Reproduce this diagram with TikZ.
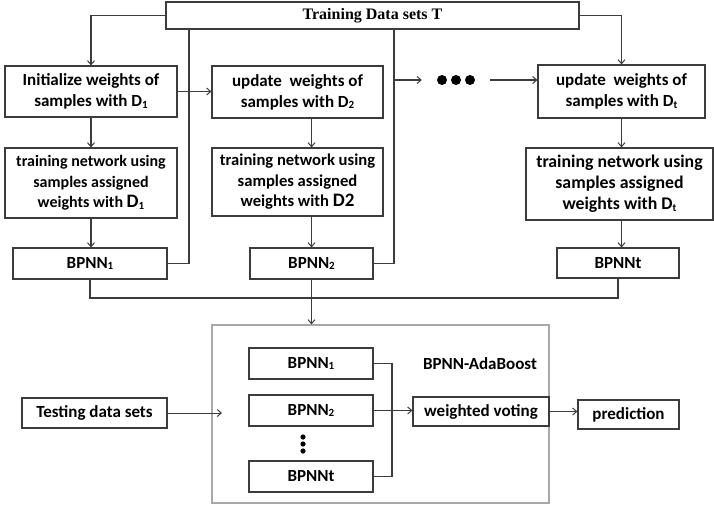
\documentclass[tikz,border=0pt]{standalone}
\usepackage{fontspec}
\setmainfont{Carlito}
\newfontfamily\serifT{Liberation Serif}
\usetikzlibrary{arrows.meta}
\newcommand\lo[1]{\raisebox{-0.2ex}{\fontsize{11}{11}\selectfont #1}}
\definecolor{ln}{HTML}{3C3C3C}
\definecolor{lg}{HTML}{A8A8A8}
\tikzset{
  box/.style={draw=ln, line width=1.2pt, rectangle, inner sep=0pt, align=center,
    font=\fontsize{17}{21}\selectfont\bfseries, text=black},
  conn/.style={draw=ln, line width=1.2pt},
  arr/.style={conn, -{Straight Barb[length=4pt,width=7pt,line width=1pt]}},
}
\begin{document}
\begin{tikzpicture}[x=1pt,y=-1pt]
\useasboundingbox (0,0) rectangle (714,509);
% top
\node[box, minimum width=413, minimum height=27, font=\serifT\fontsize{16}{18}\selectfont\bfseries] (top) at (372.5,15.5) {Training Data sets T};
% row 1
\node[box, minimum width=172, minimum height=51] (init) at (91,91.5) {Initialize weights of\\samples with D\lo{1}};
\node[box, minimum width=171, minimum height=52] (upd2) at (297.5,92) {update\ \ weights of\\samples with D\lo{2}};
\node[box, minimum width=167, minimum height=53] (updt) at (621.5,91.5) {update\ \ weights of\\samples with D\lo{t}};
\node[inner sep=0pt, minimum width=68, minimum height=12] (dots) at (456,80) {};
\foreach \dx in {-14,0,14} \fill[black] ([xshift=\dx pt]dots.center) circle (5pt);
% row 2
\node[box, minimum width=172, minimum height=70, font=\fontsize{16}{20.5}\selectfont\bfseries] (tr1) at (91,183) {training network using\\samples assigned\\weights with {\fontsize{19}{19}\selectfont D}\lo{1}};
\node[box, minimum width=171, minimum height=68, font=\fontsize{16.6}{20.5}\selectfont\bfseries] (tr2) at (297.5,182) {training network using\\samples assigned\\weights with {\fontsize{19}{19}\selectfont D2}};
\node[box, minimum width=187, minimum height=72, font=\fontsize{17.8}{21}\selectfont\bfseries] (trt) at (619.5,184) {training network using\\samples assigned\\weights with D\lo{t}};
% row 3
\node[box, minimum width=154, minimum height=31] (b1) at (90,263.5) {BPNN\lo{1}};
\node[box, minimum width=123, minimum height=31] (b2) at (311.5,263.5) {BPNN\lo{2}};
\node[box, minimum width=122, minimum height=30] (bt) at (618,263) {BPNNt};
% bottom block
\node[draw=lg, line width=1.2pt, rectangle, minimum width=337, minimum height=178, inner sep=0pt] (big) at (380.5,414) {};
\node[box, minimum width=124, minimum height=31] (ib1) at (311,363.5) {BPNN\lo{1}};
\node[box, minimum width=124, minimum height=31] (ib2) at (311,410.5) {BPNN\lo{2}};
\node[box, minimum width=124, minimum height=31] (ibt) at (311,476.5) {BPNNt};
\node[inner sep=0pt, minimum width=6, minimum height=20] (vd) at (303,444) {};
\foreach \dy in {-7,0,7} \fill[black] ([yshift=\dy pt]vd.center) circle (2.6pt);
\node[font=\fontsize{17}{21}\selectfont\bfseries, inner sep=0pt] (ada) at (480,364) {BPNN-AdaBoost};
\node[box, minimum width=136, minimum height=29] (wv) at (481,411.5) {weighted voting};
\node[box, minimum width=101, minimum height=29] (pred) at (628.5,414.5) {prediction};
\node[box, minimum width=145, minimum height=30] (test) at (94.5,413) {Testing data sets};
% coordinates
\coordinate (j1) at (189,0);
\coordinate (j2) at (394,0);
\coordinate (bus) at (0,298);
\coordinate (br) at (392,0);
\coordinate (tin) at (222,413);
% connectors
\draw[arr] (top.west) -| (init.north);
\draw[arr] (top.east) -| (updt.north);
\draw[conn] (b1.east) -| (j1 |- top.south);
\draw[conn] (b2.east) -| (j2 |- top.south);
\draw[arr] (j2 |- dots.west) -- (dots.west);
\draw[arr] (dots.east) -- (updt.west |- dots.east);
\draw[arr] (init.east) -- (init.east -| upd2.west);
\draw[arr] (init.south) -- (init.south |- tr1.north);
\draw[arr] (tr1.south) -- (tr1.south |- b1.north);
\draw[arr] (b2 |- upd2.south) -- (b2 |- tr2.north);
\draw[arr] (b2 |- tr2.south) -- (b2.north);
\draw[arr] (updt.south) -- (updt.south |- trt.north);
\draw[arr] (updt.south |- trt.south) -- (updt.south |- bt.north);
\draw[conn] (b1.south) |- (bus -| bt.south) -- (bt.south);
\draw[arr] (b2.south) -- (b2.south |- big.north);
\draw[conn] (ib1.east) -| (br |- ibt.east) -- (ibt.east);
\draw[arr] (ib2.east) -- (ib2.east -| wv.west);
\draw[arr] (wv.east) -- (wv.east -| pred.west);
\draw[arr, line width=1pt] (test.east) -- (test.east -| tin);
\end{tikzpicture}
\end{document}
